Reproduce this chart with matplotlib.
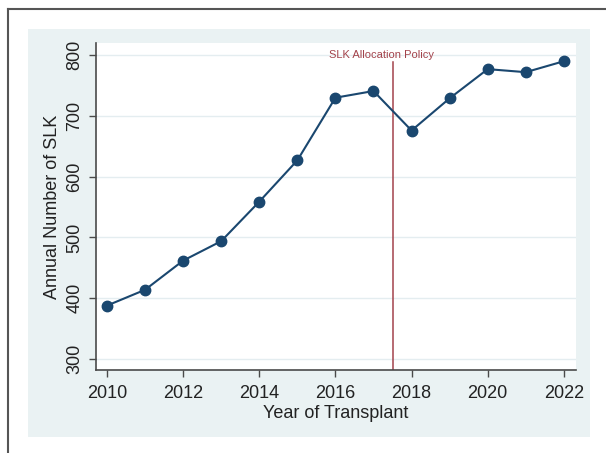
import matplotlib.pyplot as plt
from matplotlib.patches import Rectangle
from matplotlib.lines import Line2D

plt.rcParams['font.family'] = ['Liberation Sans', 'DejaVu Sans']

# data
years = [2010, 2011, 2012, 2013, 2014, 2015, 2016, 2017, 2018, 2019, 2020, 2021, 2022]
slk = [388, 414, 462, 494, 559, 627, 730, 741, 676, 729, 777, 772, 790]
y_ticks = [300, 400, 500, 600, 700, 800]
x_ticks = [2010, 2012, 2014, 2016, 2018, 2020, 2022]
policy_year = 2017.5
policy_label = "SLK Allocation Policy"

navy = "#1a476f"
maroon = "#a3434b"
spine_col = "#4a4a4a"

fig = plt.figure(figsize=(6.06, 4.53), dpi=100)

# outer frame (left + top only) and the light graph region
fig.add_artist(Line2D([8/606, 8/606], [0, 1 - 9/453], transform=fig.transFigure,
                      color="#555555", lw=1.5))
fig.add_artist(Line2D([8/606, 1], [1 - 9/453, 1 - 9/453], transform=fig.transFigure,
                      color="#555555", lw=1.5))
fig.add_artist(Rectangle((28/606, 1 - 437/453), (590 - 28)/606, (437 - 29)/453,
                         transform=fig.transFigure, facecolor="#eaf2f3",
                         edgecolor="none", zorder=0))

ax = fig.add_axes([96/606, 1 - 370/453, (576 - 96)/606, (370 - 43)/453])
ax.set_facecolor("white")

ax.plot(years, slk, color=navy, lw=1.5, marker="o", markersize=7.5,
        markerfacecolor=navy, markeredgecolor=navy, zorder=3)

ax.plot([policy_year, policy_year], [270, 789], color=maroon, lw=1.1, zorder=2)
ax.text(2017.2, 800, policy_label, color=maroon, fontsize=8,
        ha="center", va="center", zorder=4)

ax.set_xlim(2009.71, 2022.32)
ax.set_ylim(282, 820)
ax.set_xticks(x_ticks)
ax.set_yticks(y_ticks)
ax.set_yticklabels([str(v) for v in y_ticks], rotation=90, va="center")
ax.grid(axis="y", color="#e4edf0", lw=1.0)
ax.set_axisbelow(True)

for side in ["top", "right"]:
    ax.spines[side].set_visible(False)
for side in ["left", "bottom"]:
    ax.spines[side].set_color(spine_col)
    ax.spines[side].set_linewidth(1.2)

ax.tick_params(axis="both", direction="out", length=5, width=1, color=spine_col,
               labelsize=13, labelcolor="#222222")
ax.tick_params(axis="x", pad=6)
ax.tick_params(axis="y", pad=4)

ax.set_xlabel("Year of Transplant", fontsize=13, color="#222222", labelpad=2)
ax.set_ylabel("Annual Number of SLK", fontsize=13, color="#222222", labelpad=4)

fig.savefig("out.png", dpi=100)
